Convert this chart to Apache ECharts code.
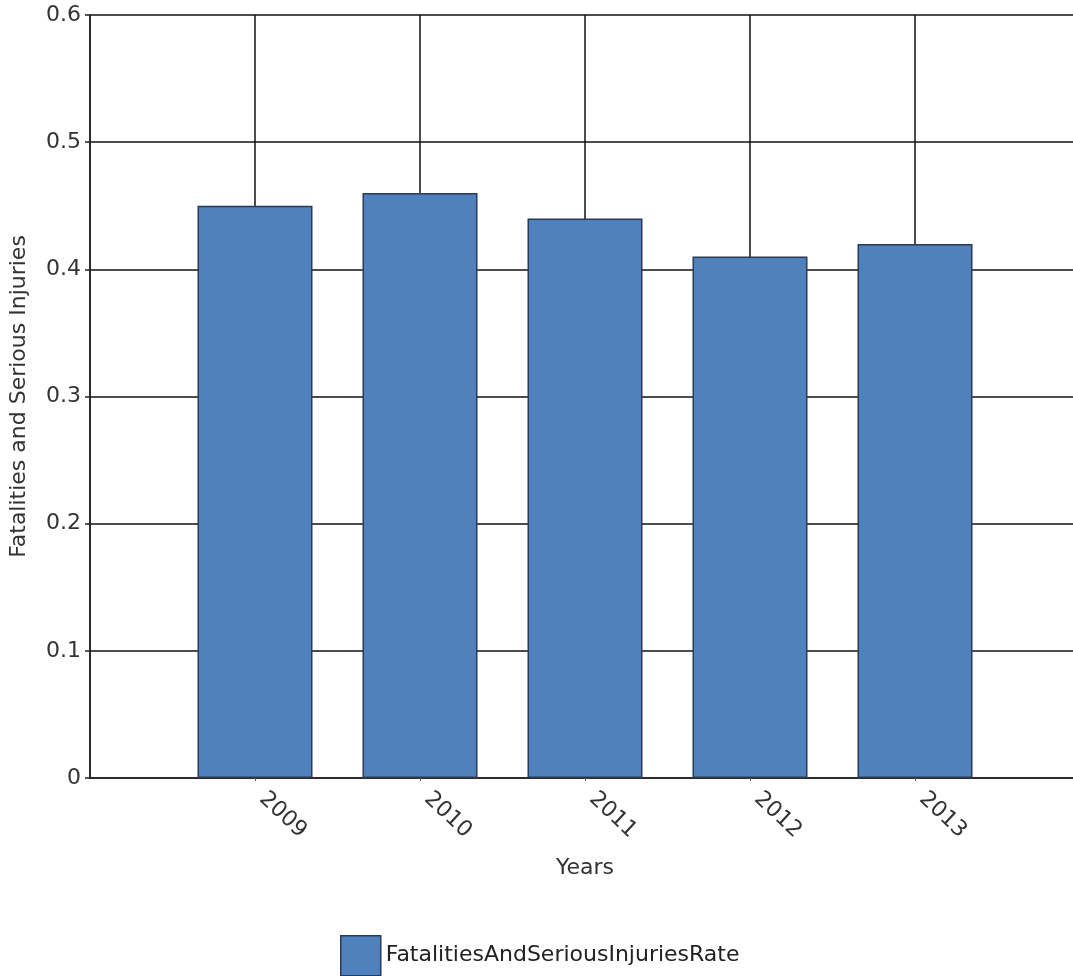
<!DOCTYPE html>
<html><head><meta charset="utf-8">
<script src="https://cdn.jsdelivr.net/npm/echarts@6/dist/echarts.min.js"></script>
<style>html,body{margin:0;padding:0;background:#fff}#c{width:1073px;height:976px}</style>
</head><body><div id="c"></div>
<script>
const years = [2009, 2010, 2011, 2012, 2013];
const rates = [0.45, 0.46, 0.44, 0.41, 0.42];
const yTicks = [0, 0.1, 0.2, 0.3, 0.4, 0.5, 0.6];
const seriesName = 'FatalitiesAndSeriousInjuriesRate';
const xTitle = 'Years';
const yTitle = 'Fatalities and Serious Injuries';

const font = '"DejaVu Sans", Verdana, sans-serif';
const chart = echarts.init(document.getElementById('c'), null, {renderer: 'canvas'});
chart.setOption({
  animation: false,
  backgroundColor: '#fff',
  grid: {left: 90, top: 15, width: 990, bottom: 198, containLabel: false, outerBoundsMode: 'none'},
  legend: {
    data: [seriesName], left: 335, top: 930, itemWidth: 40, itemHeight: 40, itemGap: 4,
    icon: 'rect',
    textStyle: {fontFamily: font, fontSize: 22, color: '#222'},
    itemStyle: {borderColor: '#2b3a55', borderWidth: 1.5}
  },
  xAxis: {
    type: 'value', min: 2008, max: 2014, interval: 1,
    name: xTitle, nameLocation: 'middle', nameGap: 79,
    nameTextStyle: {fontFamily: font, fontSize: 22, color: '#333'},
    axisLine: {show: true, onZero: false, lineStyle: {color: '#222', width: 1.5}},
    axisTick: {show: true, length: 3, lineStyle: {color: '#555'}},
    axisLabel: {
      rotate: -43, fontFamily: font, fontSize: 22, color: '#333', margin: 11,
      padding: [0, 0, 0, 10],
      showMinLabel: false, showMaxLabel: false,
      formatter: v => years.includes(v) ? String(v) : ''
    },
    splitLine: {show: true, lineStyle: {color: '#111', width: 1.5}}
  },
  yAxis: {
    type: 'value', min: 0, max: 0.6, interval: 0.1,
    name: yTitle, nameLocation: 'middle', nameGap: 60, nameRotate: 90,
    nameTextStyle: {fontFamily: font, fontSize: 22, color: '#333'},
    axisLine: {show: true, lineStyle: {color: '#222', width: 1.5}},
    axisTick: {show: true, length: 5, lineStyle: {color: '#222', width: 1.5}},
    axisLabel: {
      fontFamily: font, fontSize: 22, color: '#333', margin: 9,
      formatter: v => { const t = yTicks.find(x => Math.abs(x - v) < 1e-9); return t === undefined ? '' : String(t); }
    },
    splitLine: {show: true, lineStyle: {color: '#111', width: 1.5}}
  },
  series: [{
    name: seriesName, type: 'bar', barWidth: 115,
    data: years.map((y, i) => [y, rates[i]]),
    itemStyle: {color: '#4f81bd', borderColor: '#2b3a55', borderWidth: 1.5}
  }]
});
</script></body></html>
